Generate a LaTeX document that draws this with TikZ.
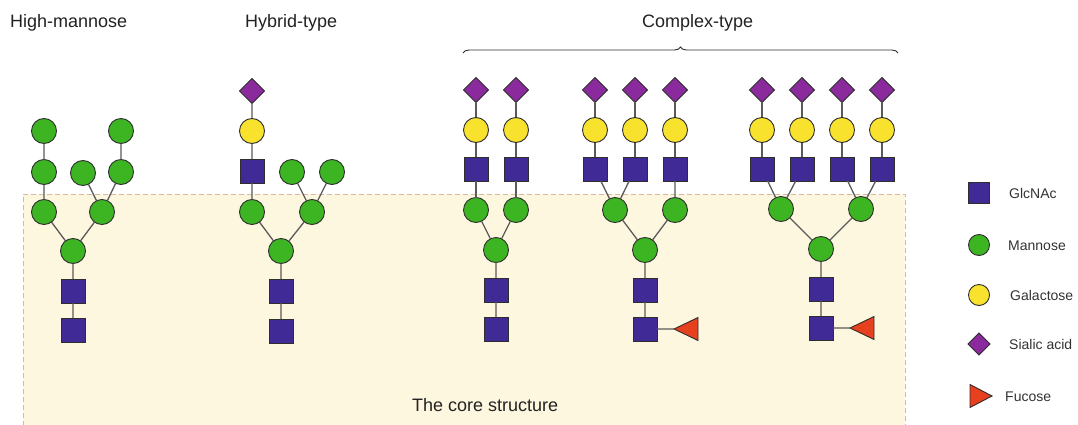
\documentclass[tikz,border=0pt]{standalone}
\usepackage{fontspec}
\setmainfont{Liberation Sans}
\usetikzlibrary{shapes.geometric,decorations.pathreplacing}

\definecolor{glcfill}{RGB}{64,42,150}
\definecolor{manfill}{RGB}{61,181,35}
\definecolor{galfill}{RGB}{248,226,46}
\definecolor{siafill}{RGB}{139,42,156}
\definecolor{fucfill}{RGB}{230,64,31}
\definecolor{outline}{RGB}{46,46,46}
\definecolor{linkcol}{RGB}{90,90,90}
\definecolor{corefill}{RGB}{254,247,223}
\definecolor{coreedge}{RGB}{217,183,168}
\definecolor{titlecol}{RGB}{34,34,34}
\definecolor{legcol}{RGB}{51,51,51}

\tikzset{
  sugar/.style={draw=outline, line width=0.9pt, inner sep=0pt, outer sep=0pt},
  glc/.style={sugar, rectangle, fill=glcfill, minimum size=24pt},
  man/.style={sugar, circle, fill=manfill, minimum size=25pt},
  gal/.style={sugar, circle, fill=galfill, minimum size=25pt},
  sia/.style={sugar, diamond, fill=siafill, minimum width=25pt, minimum height=25pt},
  fuc/.style={sugar, isosceles triangle, isosceles triangle stretches, fill=fucfill,
              minimum width=23pt, minimum height=24pt},
  link/.style={draw=linkcol, line width=1.3pt},
  title/.style={font=\fontsize{18}{20}\selectfont, text=titlecol, inner sep=0pt, anchor=base west},
  legtext/.style={font=\fontsize{14}{16}\selectfont, text=legcol, inner sep=0pt, anchor=base west},
}

\begin{document}
\begin{tikzpicture}[x=1pt, y=-1pt]
\useasboundingbox (0,0) rectangle (1078,425);
\fill[white] (0,0) rectangle (1078,425);

% core region
\fill[corefill] (23,194) rectangle (905,426);
\draw[coreedge, line width=1pt, dash pattern=on 5pt off 3pt]
  (23,426) -- (23,194) -- (905,194) -- (905,426);

% headings
\node[title] (thm) at (10,27.5) {High-mannose};
\node[title] (thy) at (245,27.5) {Hybrid-type};
\node[title] (thc) at (642,28) {Complex-type};
\node[title] (tcore) at (412,411) {The core structure};

% brace over the complex-type glycans
\coordinate (bl) at (463,53);
\coordinate (br) at (898,53);
\draw[outline, line width=0.9pt, decorate, decoration={brace, amplitude=6pt}] (bl) -- (br);

% ---------- high-mannose ----------
\node[man] (a1) at (44,131) {};
\node[man] (a2) at (44,172) {};
\node[man] (a3) at (83,173) {};
\node[man] (a4) at (121,131) {};
\node[man] (a5) at (121,172) {};
\node[man] (a6) at (44,212) {};
\node[man] (a7) at (102,212) {};
\node[man] (a8) at (73,251) {};
\node[glc] (a9) at (73,291) {};
\node[glc] (a10) at (73,330) {};
\draw[link] (a1) -- (a2) (a2) -- (a6) (a3) -- (a7) (a4) -- (a5) (a5) -- (a7)
            (a6) -- (a8) (a7) -- (a8) (a8) -- (a9) (a9) -- (a10);

% ---------- hybrid ----------
\node[sia] (b1) at (252,91) {};
\node[gal] (b2) at (252,131) {};
\node[glc] (b3) at (252,171) {};
\node[man] (b4) at (292,172) {};
\node[man] (b5) at (332,172) {};
\node[man] (b6) at (252,212) {};
\node[man] (b7) at (312,212) {};
\node[man] (b8) at (281,251) {};
\node[glc] (b9) at (281,291) {};
\node[glc] (b10) at (281,331) {};
\draw[link] (b1) -- (b2) (b2) -- (b3) (b3) -- (b6) (b4) -- (b7) (b5) -- (b7)
            (b6) -- (b8) (b7) -- (b8) (b8) -- (b9) (b9) -- (b10);

% ---------- complex, biantennary ----------
\foreach \i/\x in {1/476, 2/516} {
  \node[sia] (c\i s) at (\x,90) {};
  \node[gal] (c\i g) at (\x,130) {};
  \node[glc] (c\i n) at (\x,169) {};
  \node[man] (c\i m) at (\x,210) {};
  \draw[link] (c\i s) -- (c\i g) (c\i g) -- (c\i n) (c\i n) -- (c\i m);
}
\node[man] (c3) at (496,250) {};
\node[glc] (c4) at (496,290) {};
\node[glc] (c5) at (496,329) {};
\draw[link] (c1m) -- (c3) (c2m) -- (c3) (c3) -- (c4) (c4) -- (c5);

% ---------- complex, triantennary, core-fucosylated ----------
\foreach \i/\x in {1/595, 2/635, 3/675} {
  \node[sia] (d\i s) at (\x,90) {};
  \node[gal] (d\i g) at (\x,130) {};
  \node[glc] (d\i n) at (\x,169) {};
  \draw[link] (d\i s) -- (d\i g) (d\i g) -- (d\i n);
}
\node[man] (dm1) at (615,210) {};
\node[man] (dm2) at (675,210) {};
\node[man] (dc) at (645,250) {};
\node[glc] (dq1) at (645,290) {};
\node[glc] (dq2) at (645,329) {};
\node[fuc, shape border rotate=180, anchor=apex] (df) at (674,329) {};
\draw[link] (d1n) -- (dm1) (d2n) -- (dm1) (d3n) -- (dm2)
            (dm1) -- (dc) (dm2) -- (dc) (dc) -- (dq1) (dq1) -- (dq2) (dq2) -- (df.apex);

% ---------- complex, tetraantennary, core-fucosylated ----------
\foreach \i/\x in {1/762, 2/802, 3/842, 4/882} {
  \node[sia] (e\i s) at (\x,90) {};
  \node[gal] (e\i g) at (\x,130) {};
  \node[glc] (e\i n) at (\x,169) {};
  \draw[link] (e\i s) -- (e\i g) (e\i g) -- (e\i n);
}
\node[man] (em1) at (781,209) {};
\node[man] (em2) at (861,209) {};
\node[man] (ec) at (821,249) {};
\node[glc] (eq1) at (821,289) {};
\node[glc] (eq2) at (821,328) {};
\node[fuc, shape border rotate=180, anchor=apex] (ef) at (850,328) {};
\draw[link] (e1n) -- (em1) (e2n) -- (em1) (e3n) -- (em2) (e4n) -- (em2)
            (em1) -- (ec) (em2) -- (ec) (ec) -- (eq1) (eq1) -- (eq2) (eq2) -- (ef.apex);

% ---------- legend ----------
\node[glc, minimum size=21pt] (lg) at (979,193) {};
\node[man, minimum size=21pt] (lm) at (979,245) {};
\node[gal, minimum size=21pt] (lga) at (979,295) {};
\node[sia, minimum width=22pt, minimum height=22pt] (ls) at (979,344) {};
\node[fuc, minimum width=23pt, minimum height=22pt, anchor=apex] (lf) at (992,396) {};
\node[legtext] (tg) at (1009,198) {GlcNAc};
\node[legtext] (tm) at (1008,250) {Mannose};
\node[legtext] (tga) at (1010,300) {Galactose};
\node[legtext] (ts) at (1009,349) {Sialic acid};
\node[legtext] (tf) at (1005,401) {Fucose};
\end{tikzpicture}
\end{document}
